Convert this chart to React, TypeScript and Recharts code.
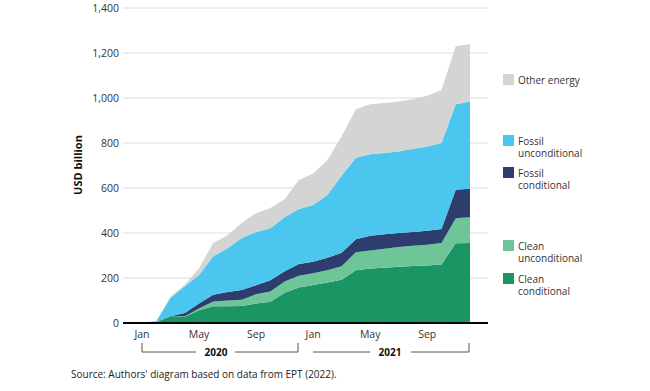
import { AreaChart, Area, CartesianGrid, XAxis, YAxis } from "recharts";

const months = [
  "Jan", "Feb", "Mar", "Apr", "May", "Jun", "Jul", "Aug", "Sep", "Oct", "Nov", "Dec",
  "Jan", "Feb", "Mar", "Apr", "May", "Jun", "Jul", "Aug", "Sep", "Oct", "Nov", "Dec",
];
const years = [
  "2020", "2020", "2020", "2020", "2020", "2020", "2020", "2020", "2020", "2020", "2020", "2020",
  "2021", "2021", "2021", "2021", "2021", "2021", "2021", "2021", "2021", "2021", "2021", "2021",
];

// USD billion, cumulative
const cleanConditional = [0, 5, 30, 28, 57, 75, 75, 76, 87, 95, 135, 158, 169, 180, 192, 234, 242, 246, 250, 253, 256, 260, 355, 356];
const cleanUnconditional = [0, 0, 0, 2, 8, 21, 25, 27, 41, 45, 50, 52, 52, 55, 60, 81, 80, 84, 88, 90, 92, 96, 111, 114];
const fossilConditional = [0, 0, 0, 15, 22, 30, 38, 44, 40, 50, 45, 52, 51, 55, 60, 57, 66, 65, 62, 62, 62, 62, 126, 127];
const fossilUnconditional = [2, 3, 82, 118, 126, 171, 194, 231, 237, 231, 240, 245, 252, 279, 343, 363, 362, 361, 362, 370, 375, 382, 380, 387];
const otherEnergy = [0, 0, 6, 7, 30, 60, 58, 68, 83, 90, 80, 129, 141, 155, 175, 215, 222, 222, 223, 220, 225, 236, 258, 256];

const yTicks = [0, 200, 400, 600, 800, 1000, 1200, 1400];

const series = [
  { key: "cleanConditional", name: "Clean conditional", color: "#1b9563" },
  { key: "cleanUnconditional", name: "Clean unconditional", color: "#6ec598" },
  { key: "fossilConditional", name: "Fossil conditional", color: "#2c3d6e" },
  { key: "fossilUnconditional", name: "Fossil unconditional", color: "#4bc6ee" },
  { key: "otherEnergy", name: "Other energy", color: "#d3d4d4" },
];

const data = months.map((m, i) => ({
  month: `${m} ${years[i]}`,
  cleanConditional: cleanConditional[i],
  cleanUnconditional: cleanUnconditional[i],
  fossilConditional: fossilConditional[i],
  fossilUnconditional: fossilUnconditional[i],
  otherEnergy: otherEnergy[i],
}));

const font = "'Open Sans', sans-serif";

// legend order top to bottom, wrapped by width
const legendItems = [
  { name: "Other energy", color: "#d3d4d4", top: 74 },
  { name: "Fossil unconditional", color: "#4bc6ee", top: 135 },
  { name: "Fossil conditional", color: "#2c3d6e", top: 167 },
  { name: "Clean unconditional", color: "#6ec598", top: 240 },
  { name: "Clean conditional", color: "#1b9563", top: 273 },
];

export default function App() {
  return (
    <div style={{ position: "absolute", left: 0, top: 0, width: 650, height: 391, background: "#fff", fontFamily: font }}>
      <AreaChart width={650} height={391} data={data} margin={{ top: 8, right: 162, bottom: 38, left: 73 }}>
        <CartesianGrid vertical={false} stroke="#dcdcdc" />
        <XAxis
          dataKey="month"
          interval={3}
          tickFormatter={(v: string) => v.split(" ")[0]}
          tickLine={false}
          axisLine={{ stroke: "#000", strokeWidth: 2 }}
          padding={{ left: 19, right: 18 }}
          tick={{ fontSize: 10.5, fill: "#333", fontFamily: font }}
          height={30}
        />
        <YAxis
          ticks={yTicks}
          domain={[0, 1400]}
          tickFormatter={(v: number) => v.toLocaleString("en-US")}
          axisLine={false}
          tickLine={false}
          tickSize={0}
          tickMargin={4}
          width={50}
          tick={{ fontSize: 10.5, fill: "#333", fontFamily: font }}
        />
        {series.map((s) => (
          <Area
            key={s.key}
            type="linear"
            dataKey={s.key}
            name={s.name}
            stackId="1"
            stroke="none"
            fill={s.color}
            fillOpacity={1}
            isAnimationActive={false}
          />
        ))}
      </AreaChart>

      <svg width={650} height={391} style={{ position: "absolute", left: 0, top: 0, pointerEvents: "none" }}>
        <text
          x={82}
          y={165}
          transform="rotate(-90 82 165)"
          textAnchor="middle"
          fontSize={11}
          fontWeight={700}
          fill="#111"
          fontFamily={font}
        >
          USD billion
        </text>
        <g stroke="#555" strokeWidth={1} fill="none">
          <line x1={142} y1={343} x2={142} y2={352} />
          <line x1={142} y1={352} x2={196} y2={352} />
          <line x1={235} y1={352} x2={298} y2={352} />
          <line x1={298} y1={343} x2={298} y2={352} />
          <line x1={313} y1={352} x2={370} y2={352} />
          <line x1={411} y1={352} x2={469} y2={352} />
          <line x1={469} y1={343} x2={469} y2={352} />
        </g>
        <text x={216} y={355.5} textAnchor="middle" fontSize={10} fontWeight={700} fill="#111" fontFamily={font}>
          2020
        </text>
        <text x={390} y={355.5} textAnchor="middle" fontSize={10} fontWeight={700} fill="#111" fontFamily={font}>
          2021
        </text>
        <text x={71} y={378} fontSize={10} fill="#222" fontFamily={font}>
          Source: Authors' diagram based on data from EPT (2022).
        </text>
      </svg>

      {legendItems.map((item) => (
        <div key={item.name} style={{ position: "absolute", left: 503, top: item.top, display: "flex", alignItems: "flex-start" }}>
          <div style={{ width: 11, height: 11, background: item.color, marginRight: 4, flexShrink: 0 }} />
          <div style={{ width: 74, fontSize: 10, lineHeight: "12px", color: "#333", marginTop: -0.5 }}>{item.name}</div>
        </div>
      ))}
    </div>
  );
}
